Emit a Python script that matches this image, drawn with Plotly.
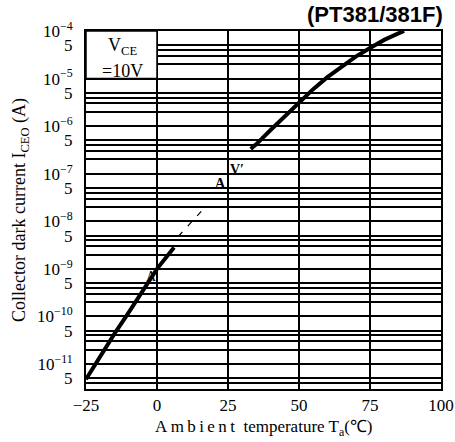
import plotly.graph_objects as go

# ---- data ----
temp_low = [-25, -20, -15, -10, -5, 0, 6]
icEO_low = [4.8e-12, 1.5e-11, 4.3e-11, 1.2e-10, 3.4e-10, 1.0e-9, 2.8e-9]

temp_mid = [7.5, 17]
iceo_mid = [4.8e-9, 2.0e-8]

temp_high = [33, 35, 40, 45, 50, 55, 60, 65, 70, 75, 80, 85, 87]
iceo_high = [3.3e-7, 4.2e-7, 8.3e-7, 1.6e-6, 3.2e-6, 6.0e-6, 1.07e-5,
             1.8e-5, 2.9e-5, 4.4e-5, 6.5e-5, 8.9e-5, 1.0e-4]

x_ticks = [-25, 0, 25, 50, 75, 100]
x_labels = ["\u221225", "0", "25", "50", "75", "100"]

decades = [-4, -5, -6, -7, -8, -9, -10, -11]
y_ticks = []
y_labels = []
for d in decades:
    y_ticks.append(10.0 ** d)
    y_labels.append("10<sup>\u2212%d</sup>" % (-d))
    y_ticks.append(5 * 10.0 ** (d - 1))
    y_labels.append("5")
minor_vals = [m * 10.0 ** (d - 1) for d in decades + [-12] for m in (2, 3, 4)]
minor_vals += [5 * 10.0 ** (d - 1) for d in decades]

serif = "Liberation Serif, Times New Roman, serif"

fig = go.Figure()
line_style = dict(color="black", width=4)
fig.add_trace(go.Scatter(x=temp_low, y=icEO_low, mode="lines", line=line_style,
                         hoverinfo="skip", showlegend=False))
fig.add_trace(go.Scatter(x=temp_mid, y=iceo_mid, mode="lines",
                         line=dict(color="black", width=1.2, dash="6px,8px"),
                         hoverinfo="skip", showlegend=False))
fig.add_trace(go.Scatter(x=temp_high, y=iceo_high, mode="lines", line=line_style,
                         hoverinfo="skip", showlegend=False))

# white V_CE box in the top-left corner
fig.add_shape(type="rect", xref="x", yref="y", x0=-25, x1=0, y0=1e-5, y1=1e-4,
              fillcolor="white", line=dict(color="black", width=1.5), layer="above")

fig.add_annotation(x=-12.0, y=-4.33, xref="x", yref="y", showarrow=False,
                   text="V<sub>CE</sub>", font=dict(family=serif, size=18, color="black"))
fig.add_annotation(x=-12.0, y=-4.84, xref="x", yref="y", showarrow=False,
                   text="=10V", font=dict(family=serif, size=18, color="black"))

fig.add_annotation(x=28.2, y=-6.92, xref="x", yref="y", showarrow=False,
                   text="<b>V\u2032</b>", font=dict(family=serif, size=14, color="black"))
fig.add_annotation(x=22.2, y=-7.2, xref="x", yref="y", showarrow=False,
                   text="<b>A</b>", font=dict(family=serif, size=14, color="black"))
fig.add_annotation(x=-1.8, y=-9.17, xref="x", yref="y", showarrow=False,
                   text="A", font=dict(family=serif, size=14, color="black"))

fig.add_annotation(x=1.0, y=1.0, xref="paper", yref="paper", xanchor="right",
                   yanchor="bottom", yshift=2, xshift=4, showarrow=False,
                   text="<b>(PT381/381F)</b>",
                   font=dict(family="Liberation Sans, Arial, sans-serif", size=22,
                             color="black"))

# axis titles
fig.add_annotation(x=0.5, y=0, xref="paper", yref="paper", yshift=-39,
                   xanchor="center", yanchor="middle", showarrow=False,
                   text="A\u2009m\u2009b\u2009i\u2009e\u2009n\u2009t  temperature T<sub>a</sub>(\u2103)",
                   font=dict(family=serif, size=17, color="black"))
fig.add_annotation(x=0, y=0.5, xref="paper", yref="paper", xshift=-66,
                   xanchor="center", yanchor="middle", textangle=-90, showarrow=False,
                   text="Collector dark current I<sub>CEO</sub> (A)",
                   font=dict(family=serif, size=18, color="black"))

fig.update_layout(
    width=455, height=442,
    margin=dict(l=86, r=14, t=31, b=53, autoexpand=False),
    paper_bgcolor="white", plot_bgcolor="white",
    xaxis=dict(
        range=[-25, 100], tickvals=x_ticks, ticktext=x_labels,
        showgrid=True, gridcolor="black", gridwidth=1.5,
        showline=True, linecolor="black", linewidth=2, mirror=True,
        ticks="", zeroline=False, automargin=False,
        tickfont=dict(family=serif, size=17, color="black"),
    ),
    yaxis=dict(
        type="log", range=[-11.526, -4], tickvals=y_ticks, ticktext=y_labels,
        showgrid=True, gridcolor="black", gridwidth=2,
        showline=True, linecolor="black", linewidth=2, mirror=True,
        ticks="", zeroline=False, ticklabelstandoff=8, automargin=False,
        minor=dict(tickvals=minor_vals, showgrid=True, gridcolor="black",
                   gridwidth=1.8, ticks=""),
        tickfont=dict(family=serif, size=17, color="black"),
    ),
)

fig.write_html("out.html", config={"displayModeBar": False},
               post_script="document.body.style.margin='0';document.body.style.overflow='hidden';")
